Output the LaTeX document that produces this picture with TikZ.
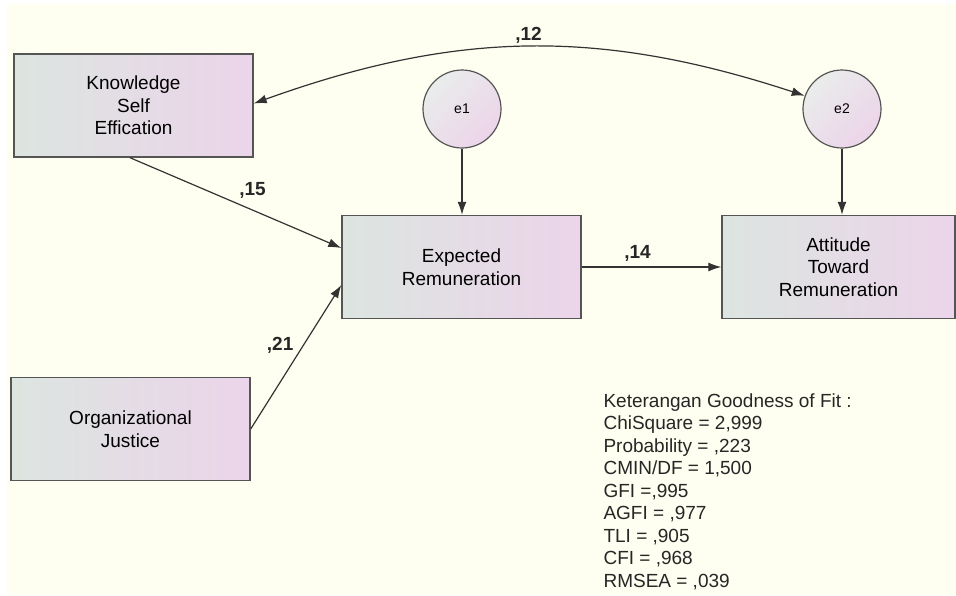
\documentclass[tikz,border=0pt]{standalone}
\usepackage{fontspec}
\setmainfont{Liberation Sans}
\usetikzlibrary{arrows.meta}
\definecolor{paper}{HTML}{FEFFF0}
\definecolor{boxleft}{HTML}{DCE5E0}
\definecolor{boxright}{HTML}{ECD4EA}
\definecolor{boxline}{HTML}{555555}
\definecolor{arrowline}{HTML}{333333}
\tikzset{
    var/.style={draw=boxline, line width=1.4pt, left color=boxleft, right color=boxright,
        minimum width=239pt, minimum height=103pt, inner sep=0pt, align=center,
        font=\fontsize{19}{22.5}\selectfont},
    err/.style={circle, draw=boxline, line width=1.2pt, top color=boxleft!80!gray!40,
        bottom color=boxright, shading angle=45, minimum size=78pt, inner sep=0pt,
        font=\fontsize{14}{16}\selectfont},
    effect/.style={-{Latex[length=13pt,width=9pt]}, line width=1.2pt, draw=arrowline},
    coef/.style={font=\bfseries\fontsize{19}{22}\selectfont, text=black!85}
}
\begin{document}
\begin{tikzpicture}[x=1pt, y=-1pt]
            \useasboundingbox (0,0) rectangle (956,595);
            \fill [white] (0,0) rectangle (956,595);
            \fill [paper] (7,4) rectangle (956,595);
            \node [var] (kse) at (133.5,105.5) {Knowledge\\Self\\Effication};
            \node [var] (oj) at (130.5,429) {Organizational\\Justice};
            \node [var] (er) at (461.5,267) {Expected\\Remuneration};
            \node [var, minimum width=233pt] (atr) at (838.5,267) {Attitude\\Toward\\Remuneration};
            \node [err] (e1) at (462,109) {e1};
            \node [err] (e2) at (842,109) {e2};
            \draw [effect] ([xshift=-3.5pt]kse.south) -- node [coef, above, pos=0.58, yshift=8pt] {,15} ([yshift=19pt]er.west);
            \draw [effect] (oj.east) -- node [coef, left, pos=0.58, xshift=-6pt] {,21} ([yshift=-18pt]er.west);
            \draw [effect] (er.east) -- node [coef, above, pos=0.4, yshift=2pt] {,14} (atr.west);
            \draw [effect] (e1.south) -- (e1.south |- er.north);
            \draw [effect] (e2.south) -- (e2.south |- atr.north);
            \draw [effect, {Latex[length=13pt,width=9pt]}-{Latex[length=13pt,width=9pt]}] ([yshift=2pt]kse.east) to [bend left=19] node [coef, above, pos=0.5] {,12} (e2);
            \node [anchor=north west, align=left, font=\fontsize{19}{22.5}\selectfont, text=black!85] (fit) at (600,390) {Keterangan Goodness of Fit :\\ChiSquare = 2,999\\Probability = ,223\\CMIN/DF = 1,500\\GFI =,995\\AGFI = ,977\\TLI = ,905\\CFI = ,968\\RMSEA = ,039};
        \end{tikzpicture}
\end{document}
